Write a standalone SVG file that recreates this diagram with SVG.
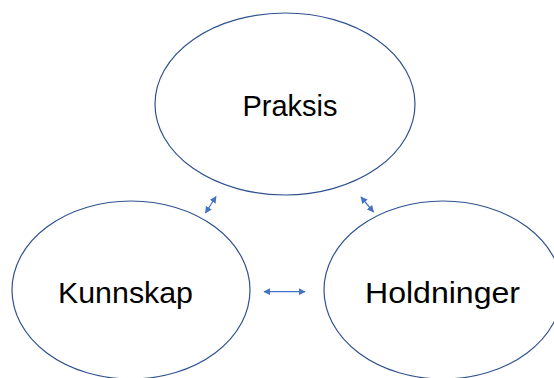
<svg xmlns="http://www.w3.org/2000/svg" width="554" height="378" viewBox="0 0 554 378">
<style>
.node{fill:#fff;stroke:#2F528F;stroke-width:1.2}
.lbl{font-family:"Liberation Sans",Arial,sans-serif;font-size:30px;fill:#000;text-anchor:middle}
.conn{stroke:#4472C4;stroke-width:1.2;fill:none}
</style>
<defs>
<marker id="ah" viewBox="0 0 10 10" refX="9" refY="5" markerWidth="7" markerHeight="7" markerUnits="userSpaceOnUse" orient="auto-start-reverse">
<path d="M0,0 L10,5 L0,10 z" fill="#4472C4"/>
</marker>
</defs>
<rect width="554" height="378" fill="#fff"/>
<g id="praksis">
<ellipse class="node" cx="285" cy="104" rx="130" ry="91"/>
<text class="lbl" x="290" y="116" textLength="95" lengthAdjust="spacingAndGlyphs">Praksis</text>
</g>
<g id="kunnskap">
<ellipse class="node" cx="131" cy="290" rx="119" ry="89"/>
<text class="lbl" x="125.5" y="303" textLength="135" lengthAdjust="spacingAndGlyphs">Kunnskap</text>
</g>
<g id="holdninger">
<ellipse class="node" cx="443" cy="290" rx="119" ry="89"/>
<text class="lbl" x="442.5" y="303" textLength="155" lengthAdjust="spacingAndGlyphs">Holdninger</text>
</g>
<g id="connectors">
<line class="conn" x1="205.5" y1="213" x2="216" y2="196.5" marker-start="url(#ah)" marker-end="url(#ah)"/>
<line class="conn" x1="361" y1="197" x2="373.5" y2="212" marker-start="url(#ah)" marker-end="url(#ah)"/>
<line class="conn" x1="264" y1="291.7" x2="305" y2="291.7" marker-start="url(#ah)" marker-end="url(#ah)"/>
</g>
</svg>
